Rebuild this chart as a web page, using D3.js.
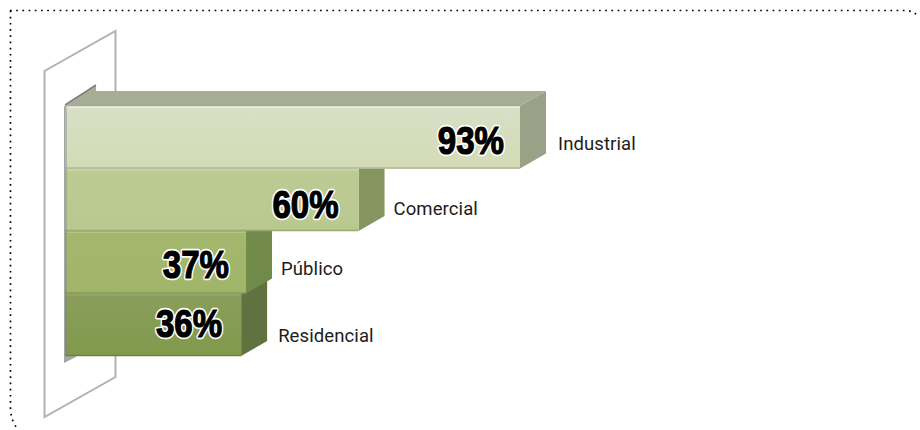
<!DOCTYPE html>
<html><head><meta charset="utf-8">
<script src="https://cdn.jsdelivr.net/npm/d3@7"></script>
<style>html,body{margin:0;padding:0;background:#fff;overflow:hidden}svg{display:block}</style>
</head><body><svg id="c" width="920" height="430"></svg>
<script>
const categories = ["Industrial","Comercial","Público","Residencial"];
const values = [93,60,37,36];
const faceTop = ["#d8dfc6","#bccb94","#a3b86e","#8a9e5c"];
const faceBottom = ["#d3dbb6","#b9c98e","#a0b568","#809a4c"];
const roofColor = "#a7ad93";
const sideColors = ["#9aa187","#85955f","#728a49","#5f7240"];
const labelNudgeX = [38,35,35,37];
const labelNudgeY = [13,15,13,17];
const valueNudgeX = [-16,-20,-17,-19];
const valueNudgeY = [17,18,16,12];

const svg = d3.select("#c");
const x = d3.scaleLinear().domain([0,93]).range([65,520]);
const y = d3.scaleBand().domain(categories).range([106,356]).padding(0);
const depthX = 26, depthY = -15;
const line = d3.line();
const defs = svg.append("defs");
defs.append("filter").attr("id","soft").append("feGaussianBlur").attr("stdDeviation",0.5);
categories.forEach((c,i)=>{
  const g = defs.append("linearGradient").attr("id","f"+i).attr("x1",0).attr("y1",0).attr("x2",0).attr("y2",1);
  g.append("stop").attr("offset","0%").attr("stop-color",faceTop[i]);
  g.append("stop").attr("offset","100%").attr("stop-color",faceBottom[i]);
});

// dotted frame
svg.append("path")
  .attr("d","M10,10.5 H906 Q914,11 919,17 M10.5,10.5 V408 Q11,422 18,429")
  .attr("fill","none").attr("stroke","#000").attr("stroke-width",1.7)
  .attr("stroke-dasharray","1.7 4.5");

const chart = svg.append("g").attr("filter","url(#soft)");

// back panel
chart.append("path").attr("d",line([[44.5,71],[115.5,31],[115.5,377],[44.5,417]])+"Z")
  .attr("fill","#fff").attr("stroke","#b0b2b0").attr("stroke-width",2);

// axis wall strip behind the bars
chart.append("path").attr("d",line([[64,106],[64,363],[76,357],[76,106]])+"Z").attr("fill","#a5a7a7");
chart.append("path").attr("d",line([[65,106],[96,85],[96,92],[76,106]])+"Z").attr("fill","#a9ab9e");
chart.append("path").attr("d",line([[65,105],[96,85]])).attr("fill","none").attr("stroke","#7d7f76").attr("stroke-width",1.5);

// bars drawn bottom to top so that upper bars overlap lower ones
const order = d3.range(categories.length).reverse();
order.forEach(i=>{
  const c = categories[i];
  const x0 = x(0), x1 = x(values[i]), y0 = y(c), y1 = y0 + y.bandwidth();
  if(i===0){
    chart.append("path").attr("d",line([[x0+8,y0],[x0+depthX,y0+depthY],[x1+depthX,y0+depthY],[x1,y0]])+"Z").attr("fill",roofColor);
  }
  chart.append("path").attr("d",line([[x1,y0],[x1+depthX,y0+depthY],[x1+depthX,y1+depthY],[x1,y1]])+"Z").attr("fill",sideColors[i]);
  chart.append("rect").attr("x",x0).attr("y",y0).attr("width",x1-x0).attr("height",y.bandwidth()).attr("fill",`url(#f${i})`);
  chart.append("line").attr("x1",x0).attr("x2",x1).attr("y1",y1-0.5).attr("y2",y1-0.5).attr("stroke",d3.color(faceBottom[i]).darker(0.5)).attr("stroke-width",1.5);
  chart.append("line").attr("x1",x0).attr("x2",x1).attr("y1",y0+1.5).attr("y2",y0+1.5).attr("stroke",d3.color(faceTop[i]).brighter(0.25)).attr("stroke-width",1);
  chart.append("line").attr("x1",x0+1).attr("x2",x0+1).attr("y1",y0).attr("y2",y1).attr("stroke","#7d8080").attr("stroke-opacity",0.4).attr("stroke-width",2);
});

// category labels
svg.selectAll("text.cat").data(categories).join("text").attr("class","cat")
  .attr("x",(d,i)=>x(values[i])+labelNudgeX[i])
  .attr("y",(d,i)=>y(d)+y.bandwidth()/2+labelNudgeY[i])
  .attr("font-family","Roboto, 'Noto Sans', sans-serif").attr("font-size",18.5).attr("letter-spacing",0.1).attr("fill","#1c1c1c")
  .text(d=>d);

// value labels: bold sans squeezed horizontally to match the heavy condensed face
const vals = svg.selectAll("g.val").data(values).join("g").attr("class","val")
  .attr("transform",(d,i)=>`translate(${x(d)+valueNudgeX[i]},${y(categories[i])+y.bandwidth()/2+valueNudgeY[i]}) scale(0.87,1)`);
const valStyle = s=>s.attr("text-anchor","end").attr("font-family","'Liberation Sans',sans-serif")
  .attr("font-weight",700).attr("font-size",38).text(d=>d+"%");
vals.append("text").call(valStyle).attr("fill","#fff").attr("stroke","#fff").attr("stroke-width",4.5).attr("stroke-linejoin","round");
vals.append("text").call(valStyle).attr("fill","#000").attr("stroke","#000").attr("stroke-width",1.2);
</script></body></html>
